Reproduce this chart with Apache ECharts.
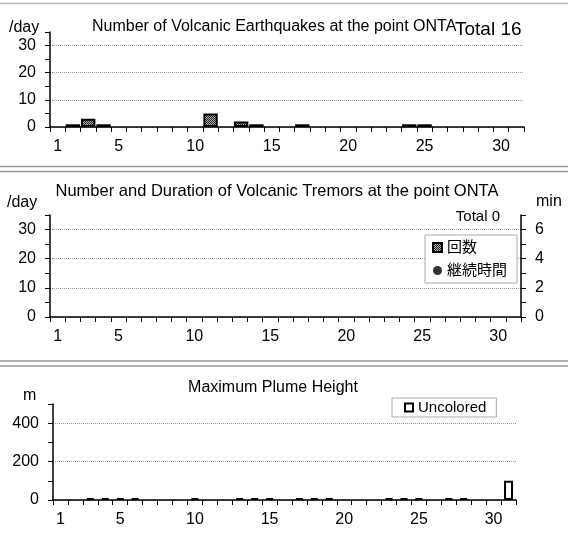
<!DOCTYPE html>
<html>
<head>
<meta charset="utf-8">
<title>ONTA</title>
<script src="https://cdn.jsdelivr.net/npm/echarts@6/dist/echarts.min.js"></script>
<style>
  html, body { margin: 0; padding: 0; background: #fff; }
  #main { width: 568px; height: 540px; }
</style>
</head>
<body>
<div id="main"></div>
<script>
// days of the month
const days = ['1', '2', '3', '4', '5', '6', '7', '8', '9', '10', '11', '12', '13', '14', '15', '16',
  '17', '18', '19', '20', '21', '22', '23', '24', '25', '26', '27', '28', '29', '30', '31']
const dayLabels = ['1', '5', '10', '15', '20', '25', '30']

// volcanic earthquakes per day (total 16)
const quakeCounts = [0, 1, 3, 1, 0, 0, 0, 0, 0, 0, 5, 0, 2, 1, 0, 0, 1, 0, 0, 0, 0, 0, 0, 1, 1, 0, 0, 0, 0, 0, 0]
// volcanic tremors: none this month
const tremorCounts = []
const tremorMinutes = []
// maximum plume height (m), '-' = not observed
const plumeHeights = ['-', '-', 0, 0, 0, 0, '-', '-', '-', 0, '-', '-', 0, 0, 0, '-', 0, 0, 0, '-',
  '-', '-', 0, 0, 0, '-', 0, 0, '-', '-', 100]

const FONT = "'Liberation Sans', Arial, 'Noto Sans CJK JP', sans-serif"

// dithered grey fill like the original bars
function dotPattern() {
  const c = document.createElement('canvas')
  c.width = 2
  c.height = 2
  const ctx = c.getContext('2d')
  ctx.fillStyle = '#b0b0b0'
  ctx.fillRect(0, 0, 2, 2)
  ctx.fillStyle = '#222'
  ctx.fillRect(0, 0, 1, 1)
  ctx.fillRect(1, 1, 1, 1)
  return { image: c, repeat: 'repeat' }
}
const dots = dotPattern()

function catAxis(gridIndex) {
  return {
    type: 'category',
    gridIndex: gridIndex,
    data: days,
    boundaryGap: true,
    axisLine: { lineStyle: { color: '#000', width: 1.5 } },
    axisTick: { show: true, interval: 0, length: 5, lineStyle: { color: '#000' } },
    axisLabel: {
      interval: 0,
      margin: 12,
      color: '#000',
      fontSize: 16,
      fontFamily: FONT,
      formatter: (v) => (dayLabels.includes(v) ? v : ''),
    },
    splitLine: { show: false },
  }
}

function valAxis(gridIndex, max, step, labelStep, position, grid) {
  return {
    type: 'value',
    gridIndex: gridIndex,
    position: position,
    min: 0,
    max: max,
    interval: step,
    axisLine: { show: true, lineStyle: { color: '#000', width: 1.5 } },
    axisTick: { show: true, length: 5, lineStyle: { color: '#000' } },
    axisLabel: {
      margin: 14,
      color: '#000',
      fontSize: 16,
      fontFamily: FONT,
      formatter: (v) => (v % labelStep === 0 ? String(v) : ''),
    },
    splitLine: {
      show: grid,
      lineStyle: { type: 'dotted', width: 1, color: ['#999', 'rgba(0,0,0,0)'] },
    },
  }
}

function label(text, x, y, size, align) {
  return {
    type: 'text',
    x: x,
    y: y,
    style: {
      text: text,
      fill: '#000',
      font: size + 'px ' + FONT,
      textAlign: align || 'left',
      textVerticalAlign: 'middle',
    },
  }
}

function sep(y, color) {
  return {
    type: 'line',
    shape: { x1: 0, y1: y, x2: 568, y2: y },
    style: { stroke: color || '#999', lineWidth: 1.5 },
  }
}

const chart = echarts.init(document.getElementById('main'))
chart.setOption({
  animation: false,
  backgroundColor: '#fff',
  grid: [
    { left: 50, top: 32, width: 474, height: 95 },
    { left: 50, top: 215, width: 471, height: 102 },
    { left: 53, top: 404, width: 463, height: 96 },
  ],
  xAxis: [catAxis(0), catAxis(1), catAxis(2)],
  yAxis: [
    valAxis(0, 35, 5, 10, 'left', true),
    valAxis(1, 35, 5, 10, 'left', true),
    valAxis(1, 7, 1, 2, 'right', false),
    valAxis(2, 500, 100, 200, 'left', true),
  ],
  legend: [
    {
      data: [{ name: '回数', icon: 'rect' }, { name: '継続時間', icon: 'circle' }],
      orient: 'vertical',
      left: 425,
      top: 235,
      padding: [5, 10, 5, 7],
      itemGap: 8,
      itemWidth: 9,
      itemHeight: 9,
      borderColor: '#aaa',
      borderWidth: 1,
      backgroundColor: '#fff',
      selectedMode: false,
      textStyle: { fontSize: 15, fontFamily: FONT, color: '#000' },
    },
    {
      data: [{ name: 'Uncolored', icon: 'rect' }],
      left: 392,
      top: 398,
      padding: [2, 10, 2, 12],
      itemWidth: 8,
      itemHeight: 8,
      borderColor: '#aaa',
      borderWidth: 1,
      backgroundColor: '#fff',
      selectedMode: false,
      textStyle: { fontSize: 15, fontFamily: FONT, color: '#000' },
    },
  ],
  graphic: [
    sep(3.5, '#bbb'),
    sep(166.5),
    sep(171.5),
    sep(361),
    sep(366),
    label('/day', 9, 28, 16),
    label('Number of Volcanic Earthquakes at the point ONTA', 92, 27, 16),
    label('Total 16', 455, 30, 19),
    label('/day', 7, 203, 16),
    label('Number and Duration of Volcanic Tremors at the point ONTA', 277, 191, 16.5, 'center'),
    label('min', 536, 202, 16),
    label('Total 0', 500, 217, 15, 'right'),
    label('m', 23, 396, 16),
    label('Maximum Plume Height', 273, 388, 16, 'center'),
  ],
  series: [
    {
      name: 'Earthquakes',
      type: 'bar',
      xAxisIndex: 0,
      yAxisIndex: 0,
      data: quakeCounts.map((v) => (v === 0 ? '-' : v)),
      barCategoryGap: '6%',
      itemStyle: { color: dots, borderColor: '#000', borderWidth: 2 },
    },
    {
      name: '回数',
      type: 'bar',
      xAxisIndex: 1,
      yAxisIndex: 1,
      data: tremorCounts,
      barCategoryGap: '6%',
      itemStyle: { color: dots, borderColor: '#000', borderWidth: 2 },
    },
    {
      name: '継続時間',
      type: 'scatter',
      xAxisIndex: 1,
      yAxisIndex: 2,
      data: tremorMinutes,
      symbol: 'circle',
      itemStyle: { color: '#000' },
    },
    {
      name: 'Uncolored',
      type: 'bar',
      xAxisIndex: 2,
      yAxisIndex: 3,
      data: plumeHeights,
      barWidth: 9,
      barMinHeight: 2,
      itemStyle: { color: '#fff', borderColor: '#000', borderWidth: 2 },
    },
  ],
})
window.addEventListener('resize', () => {
  chart.resize()
})
</script>
</body>
</html>
